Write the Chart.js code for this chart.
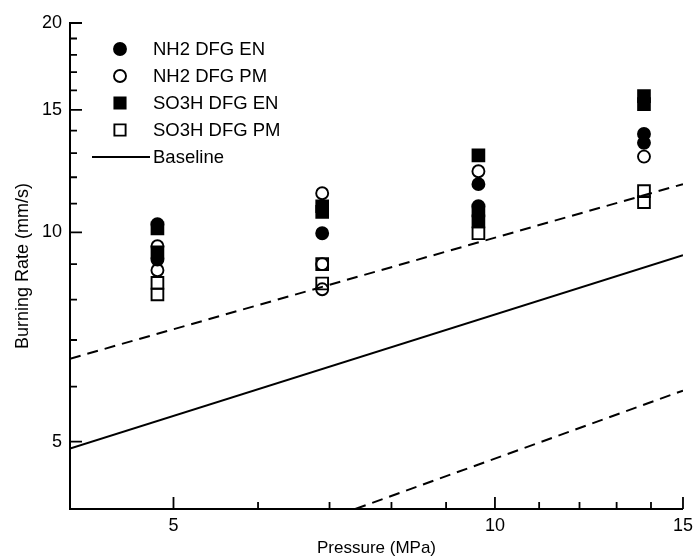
<!DOCTYPE html>
<html>
<head>
<meta charset="utf-8">
<script src="https://cdn.jsdelivr.net/npm/chart.js@4/dist/chart.umd.min.js"></script>
<style>
html, body { margin: 0; padding: 0; background: #fff; }
#wrap { width: 699px; height: 560px; }
</style>
</head>
<body>
<div id="wrap"><canvas id="myChart"></canvas></div>
<script>
// pressure (MPa) and burning rate (mm/s)
var nh2EnP = [4.83, 4.83, 6.89, 9.65, 9.65, 13.79, 13.79]
var nh2EnR = [10.27, 9.14, 9.97, 11.73, 10.9, 13.85, 13.45]

var nh2PmP = [4.83, 4.83, 6.89, 6.89, 6.89, 9.65, 13.79]
var nh2PmR = [9.55, 8.82, 11.38, 9.0, 8.28, 12.24, 12.85]

var so3EnP = [4.83, 4.83, 6.89, 6.89, 9.65, 9.65, 9.65, 13.79, 13.79]
var so3EnR = [10.13, 9.36, 10.9, 10.7, 12.9, 10.75, 10.37, 15.7, 15.29]

var so3PmP = [4.83, 4.83, 6.89, 6.89, 9.65, 13.79, 13.79]
var so3PmR = [8.46, 8.14, 9.0, 8.44, 9.97, 11.46, 11.05]

var baseP = [4, 15]
var baseR = [4.885, 9.27]
var upperP = [4, 15]
var upperR = [6.58, 11.73]
var lowerP = [7.4, 15]
var lowerR = [4, 5.92]

var xTicks = [4, 5, 6, 7, 8, 9, 10, 11, 12, 13, 14, 15]
var xLabels = [5, 10, 15]
var yTicks = [4, 5, 6, 7, 8, 9, 10, 11, 12, 13, 14, 15, 16, 17, 18, 19, 20]
var yLabels = [5, 10, 15, 20]

var FONT = '"Liberation Sans", Arial, sans-serif'

function pts(px, py) {
    return px.map(function(p, i) { return {x: p, y: py[i]} })
}

function markerSet(label, px, py, style, filled) {
    return {
        type: 'scatter',
        label: label,
        data: pts(px, py),
        pointStyle: style,
        pointRadius: style === 'rect' ? 8.3 : 6,
        pointBackgroundColor: filled ? '#000' : 'rgba(0,0,0,0)',
        pointBorderColor: '#000',
        pointBorderWidth: 1.9,
        showLine: false
    }
}

function lineSet(label, px, py, dash) {
    return {
        type: 'line',
        label: label,
        data: pts(px, py),
        borderColor: '#000',
        borderWidth: 2,
        borderDash: dash,
        pointRadius: 0,
        fill: false,
        inLegend: label === 'Baseline'
    }
}

// ticks pointing into the plot, long ones where there is a label
var insideTicks = {
    id: 'insideTicks',
    afterDatasetsDraw: function(chart) {
        var ctx = chart.ctx, a = chart.chartArea
        var xs = chart.scales.x, ys = chart.scales.y
        ctx.save()
        ctx.strokeStyle = '#000'
        ctx.lineWidth = 1.8
        ctx.beginPath()
        xs.ticks.forEach(function(t) {
            var px = xs.getPixelForValue(t.value)
            var len = xLabels.indexOf(t.value) >= 0 ? 12 : 7
            ctx.moveTo(px, a.bottom)
            ctx.lineTo(px, a.bottom - len)
        })
        ys.ticks.forEach(function(t) {
            var py = ys.getPixelForValue(t.value)
            var len = yLabels.indexOf(t.value) >= 0 ? 12 : 7
            ctx.moveTo(a.left, py)
            ctx.lineTo(a.left + len, py)
        })
        ctx.stroke()
        ctx.restore()
    }
}

// legend drawn inside the plot, top left
var insideLegend = {
    id: 'insideLegend',
    afterDraw: function(chart) {
        var ctx = chart.ctx, a = chart.chartArea
        var mx = a.left + 50, tx = a.left + 83
        var rows = chart.data.datasets.filter(function(d) { return d.type === 'scatter' || d.inLegend })
        ctx.save()
        ctx.font = '18.5px ' + FONT
        ctx.textBaseline = 'middle'
        ctx.textAlign = 'left'
        rows.forEach(function(d, i) {
            var y = a.top + 26 + i * 27
            ctx.strokeStyle = '#000'
            ctx.fillStyle = d.pointBackgroundColor || '#000'
            ctx.lineWidth = 1.9
            ctx.beginPath()
            if (d.type === 'line') {
                ctx.lineWidth = 2
                ctx.moveTo(a.left + 22, y)
                ctx.lineTo(a.left + 80, y)
                ctx.stroke()
            } else if (d.pointStyle === 'rect') {
                ctx.rect(mx - 5.6, y - 5.6, 11.2, 11.2)
                ctx.fill()
                ctx.stroke()
            } else {
                ctx.arc(mx, y, 6, 0, Math.PI * 2)
                ctx.fill()
                ctx.stroke()
            }
            ctx.fillStyle = '#000'
            ctx.fillText(d.label, tx, y + 1)
        })
        ctx.restore()
    }
}

function setChart() {
    var el = document.getElementById('myChart').getContext('2d')
    var chart = new Chart(el, {
        data: {
            datasets: [
                markerSet('NH2 DFG EN', nh2EnP, nh2EnR, 'circle', true),
                markerSet('NH2 DFG PM', nh2PmP, nh2PmR, 'circle', false),
                markerSet('SO3H DFG EN', so3EnP, so3EnR, 'rect', true),
                markerSet('SO3H DFG PM', so3PmP, so3PmR, 'rect', false),
                lineSet('Baseline', baseP, baseR, []),
                lineSet('Upper bound', upperP, upperR, [11, 7]),
                lineSet('Lower bound', lowerP, lowerR, [11, 7])
            ]
        },
        options: {
            responsive: true,
            maintainAspectRatio: false,
            animation: false,
            layout: { padding: { top: 23, right: 11, left: 0, bottom: 0 } },
            plugins: {
                legend: { display: false },
                tooltip: { enabled: false }
            },
            scales: {
                x: {
                    type: 'logarithmic',
                    min: 4,
                    max: 15,
                    afterBuildTicks: function(s) { s.ticks = xTicks.map(function(v) { return {value: v} }) },
                    afterFit: function(s) { s.height = 51 },
                    grid: { display: false, drawTicks: false },
                    border: { display: true, color: '#000', width: 2 },
                    ticks: {
                        autoSkip: false,
                        maxRotation: 0,
                        padding: 6,
                        color: '#000',
                        font: { family: FONT, size: 18 },
                        callback: function(v) { return xLabels.indexOf(v) >= 0 ? String(v) : '' }
                    },
                    title: {
                        display: true,
                        text: 'Pressure (MPa)',
                        color: '#000',
                        font: { family: FONT, size: 17 },
                        padding: { top: 0, bottom: 1 }
                    }
                },
                y: {
                    type: 'logarithmic',
                    min: 4,
                    max: 20,
                    afterBuildTicks: function(s) { s.ticks = yTicks.map(function(v) { return {value: v} }) },
                    afterFit: function(s) { s.width = 70 },
                    grid: { display: false, drawTicks: false },
                    border: { display: true, color: '#000', width: 2 },
                    ticks: {
                        autoSkip: false,
                        padding: 8,
                        color: '#000',
                        font: { family: FONT, size: 18 },
                        callback: function(v) { return yLabels.indexOf(v) >= 0 ? String(v) : '' }
                    },
                    title: {
                        display: true,
                        text: 'Burning Rate (mm/s)',
                        color: '#000',
                        font: { family: FONT, size: 18 },
                        padding: { top: 12, bottom: 0 }
                    }
                }
            }
        },
        plugins: [insideTicks, insideLegend]
    })
}

setChart()
</script>
</body>
</html>
